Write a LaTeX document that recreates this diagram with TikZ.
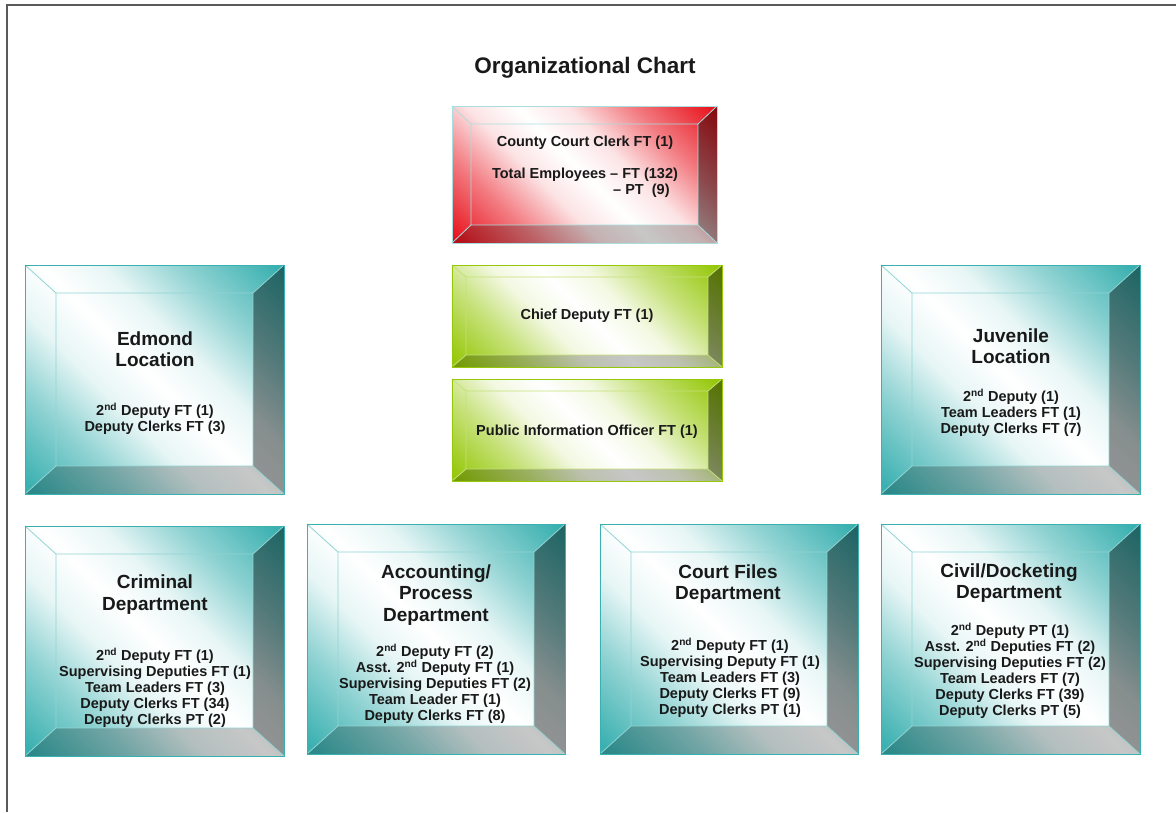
\documentclass[tikz,border=0pt]{standalone}
\usepackage{fontspec}
\setmainfont{Liberation Sans}
\definecolor{cT}{RGB}{58,176,176}
\definecolor{cR}{RGB}{232,22,32}
\definecolor{cG}{RGB}{150,200,10}
\definecolor{cCy}{RGB}{170,222,222}
\definecolor{txt}{RGB}{25,25,25}
\definecolor{pagegrey}{RGB}{90,90,90}
\pgfdeclareverticalshading{tealbev}{100bp}{color(0bp)=(cT); color(16bp)=(cT); color(30bp)=(cT!55!white); color(41bp)=(cT!12!white); color(50bp)=(white); color(59bp)=(cT!12!white); color(70bp)=(cT!55!white); color(84bp)=(cT); color(100bp)=(cT)}
\pgfdeclareverticalshading{redbev}{100bp}{color(0bp)=(cR); color(16bp)=(cR); color(30bp)=(cR!55!white); color(41bp)=(cR!12!white); color(50bp)=(white); color(59bp)=(cR!12!white); color(70bp)=(cR!55!white); color(84bp)=(cR); color(100bp)=(cR)}
\pgfdeclareverticalshading{greenbev}{100bp}{color(0bp)=(cG); color(16bp)=(cG); color(30bp)=(cG!55!white); color(41bp)=(cG!12!white); color(50bp)=(white); color(59bp)=(cG!12!white); color(70bp)=(cG!55!white); color(84bp)=(cG); color(100bp)=(cG)}
\newcommand\bevbox[9]{%
  \pgfmathsetmacro\bvXa{#1+#5}\pgfmathsetmacro\bvYa{#2+#6}%
  \pgfmathsetmacro\bvXb{#3-#5}\pgfmathsetmacro\bvYb{#4-#6}%
  \shade[shading=#7,shading angle=-45] (#1,#2) rectangle (#3,#4);
  \fill[black,opacity=.42] (#3,#2) -- (#3,#4) -- (\bvXb,\bvYb) -- (\bvXb,\bvYa) -- cycle;
  \fill[black,opacity=.22] (#1,#4) -- (#3,#4) -- (\bvXb,\bvYb) -- (\bvXa,\bvYb) -- cycle;
  \draw[#9,line width=.8] (\bvXa,\bvYa) rectangle (\bvXb,\bvYb)
     (#1,#2) -- (\bvXa,\bvYa) (#3,#2) -- (\bvXb,\bvYa)
     (#3,#4) -- (\bvXb,\bvYb) (#1,#4) -- (\bvXa,\bvYb);
  \draw[#8,line width=1] (#1,#2) rectangle (#3,#4);
}
\tikzset{
  body/.style={font=\fontsize{14.5}{16}\selectfont\bfseries, align=center, inner sep=0pt, text=txt},
  head/.style={font=\fontsize{19}{21.5}\selectfont\bfseries, align=center, inner sep=0pt, text=txt},
  titletext/.style={font=\fontsize{22.5}{27}\selectfont\bfseries, inner sep=0pt, text=txt}
}
\begin{document}
\begin{tikzpicture}[x=1pt,y=-1pt]
\useasboundingbox (0,0) rectangle (1176,812);
\fill[white] (0,0) rectangle (1176,812);
\draw[pagegrey,line width=1.5] (7,812) -- (7,5) -- (1176,5);

\node[titletext] (title) at (585,68) {Organizational Chart};

% top box
\bevbox{452}{106}{717}{243}{19}{18}{redbev}{cCy}{cCy}
\node[body] (clerk) at (585,143) {County Court Clerk FT (1)};
\node[body] (total) at (585,175) {Total Employees – FT (132)};
\node[body,anchor=west] (totalpt) at (613,191) {– PT\space\space(9)};

% green boxes
\bevbox{452}{265}{722}{367}{14}{12}{greenbev}{cG}{cG!55!white}
\node[body] (chief) at (587,316) {Chief Deputy FT (1)};
\bevbox{452}{379}{722}{481}{14}{12}{greenbev}{cG}{cG!55!white}
\node[body] (pio) at (587,432) {Public Information Officer FT (1)};

% Edmond
\bevbox{25}{265}{284}{494}{31}{28}{tealbev}{cT}{cT!55!white}
\node[head] (edh) at (155,349) {Edmond\\Location};
\node[body] (edb) at (155,418.5) {2\textsuperscript{nd} Deputy FT (1)\\Deputy Clerks FT (3)};

% Juvenile
\bevbox{881}{265}{1140}{494}{31}{28}{tealbev}{cT}{cT!55!white}
\node[head] (juh) at (1011,346) {Juvenile\\Location};
\node[body] (jub) at (1011,413) {2\textsuperscript{nd} Deputy (1)\\Team Leaders FT (1)\\Deputy Clerks FT (7)};

% Criminal
\bevbox{25}{526}{284}{756}{31}{28}{tealbev}{cT}{cT!55!white}
\node[head] (crh) at (155,594.5) {Criminal\\Department};
\node[body] (crb) at (155,687.5) {2\textsuperscript{nd} Deputy FT (1)\\Supervising Deputies FT (1)\\Team Leaders FT (3)\\Deputy Clerks FT (34)\\Deputy Clerks PT (2)};

% Accounting
\bevbox{307}{524}{565}{754}{31}{28}{tealbev}{cT}{cT!55!white}
\node[head] (ach) at (436,595) {Accounting/\\Process\\Department};
\node[body] (acb) at (435,683.5) {2\textsuperscript{nd} Deputy FT (2)\\Asst. 2\textsuperscript{nd} Deputy FT (1)\\Supervising Deputies FT (2)\\Team Leader FT (1)\\Deputy Clerks FT (8)};

% Court Files
\bevbox{600}{524}{858}{754}{31}{28}{tealbev}{cT}{cT!55!white}
\node[head] (cfh) at (728,584) {Court Files\\Department};
\node[body] (cfb) at (730,677.5) {2\textsuperscript{nd} Deputy FT (1)\\Supervising Deputy FT (1)\\Team Leaders FT (3)\\Deputy Clerks FT (9)\\Deputy Clerks PT (1)};

% Civil
\bevbox{881}{524}{1140}{754}{31}{28}{tealbev}{cT}{cT!55!white}
\node[head] (cvh) at (1009,583) {Civil/Docketing\\Department};
\node[body] (cvb) at (1010,671) {2\textsuperscript{nd} Deputy PT (1)\\Asst. 2\textsuperscript{nd} Deputies FT (2)\\Supervising Deputies FT (2)\\Team Leaders FT (7)\\Deputy Clerks FT (39)\\Deputy Clerks PT (5)};
\end{tikzpicture}
\end{document}
